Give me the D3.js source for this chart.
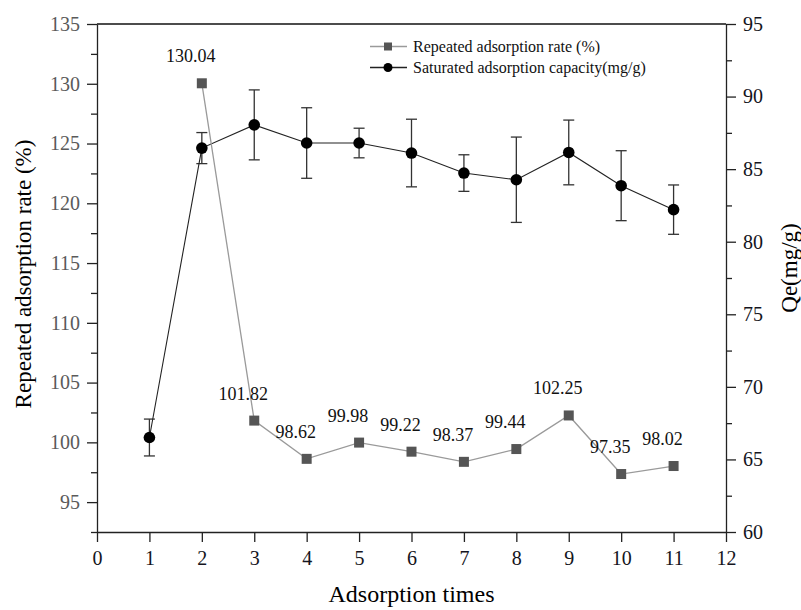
<!DOCTYPE html>
<html lang="en">
<head>
  <meta charset="UTF-8" />
  <title>Repeated adsorption</title>
  <script src="https://d3js.org/d3.v7.min.js"></script>
  <style>
    html, body { margin: 0; padding: 0; background: #fff; overflow: hidden; }
    svg { display: block; }
    svg text { font-family: "Liberation Serif", "Times New Roman", serif; }
    .axis path, .axis line { stroke: #222; stroke-width: 1.3px; }
    .axis text { font-size: 20px; }
    .left-axis text { fill: #5a5a5a; }
    .right-axis text, .bottom-axis text { fill: #141420; }
    .title { font-size: 23px; fill: #000; text-anchor: middle; }
    .val { font-size: 18px; fill: #111; text-anchor: middle; }
    .legend text { font-size: 16px; fill: #111; }
  </style>
</head>
<body>
  <svg width="801" height="610"></svg>
  <script>
    const times = [1, 2, 3, 4, 5, 6, 7, 8, 9, 10, 11];
    const rateTimes = [2, 3, 4, 5, 6, 7, 8, 9, 10, 11];
    const rate = [130.04, 101.82, 98.62, 99.98, 99.22, 98.37, 99.44, 102.25, 97.35, 98.02];
    const capacity = [66.51, 86.45, 88.05, 86.8, 86.8, 86.11, 84.73, 84.27, 86.15, 83.86, 82.21];
    const capacityErr = [1.27, 1.07, 2.41, 2.43, 1.02, 2.33, 1.26, 2.94, 2.23, 2.41, 1.7];
    const xTicks = [0, 1, 2, 3, 4, 5, 6, 7, 8, 9, 10, 11, 12];
    const leftTicks = [95, 100, 105, 110, 115, 120, 125, 130, 135];
    const leftMinor = [92.5, 97.5, 102.5, 107.5, 112.5, 117.5, 122.5, 127.5, 132.5];
    const rightTicks = [60, 65, 70, 75, 80, 85, 90, 95];
    const rightMinor = [62.5, 67.5, 72.5, 77.5, 82.5, 87.5, 92.5];
    const legendNames = ["Repeated adsorption rate (%)", "Saturated adsorption capacity(mg/g)"];

    const plotL = 97, plotR = 726, plotT = 24, plotB = 532;
    const svg = d3.select("svg");

    const x = d3.scaleLinear().domain([0, 12]).range([plotL, plotR]);
    const yL = d3.scaleLinear().domain([92.5, 135]).range([plotB, plotT]);
    const yR = d3.scaleLinear().domain([60, 95]).range([plotB, plotT]);

    // top frame line
    svg.append("line")
      .attr("x1", plotL).attr("x2", plotR).attr("y1", plotT).attr("y2", plotT)
      .attr("stroke", "#111").attr("stroke-width", 1.5);

    // axes
    const gl = svg.append("g").attr("class", "axis left-axis").attr("transform", `translate(${plotL},0)`);
    gl.call(d3.axisLeft(yL).tickValues(leftTicks).tickSize(10).tickSizeOuter(0).tickPadding(7));
    svg.append("g").attr("class", "axis").attr("transform", `translate(${plotL},0)`)
      .call(d3.axisLeft(yL).tickValues(leftMinor).tickSize(6).tickSizeOuter(0).tickFormat(""))
      .select(".domain").remove();

    const gr = svg.append("g").attr("class", "axis right-axis").attr("transform", `translate(${plotR},0)`);
    gr.call(d3.axisRight(yR).tickValues(rightTicks).tickSize(10).tickSizeOuter(0).tickPadding(7));
    svg.append("g").attr("class", "axis").attr("transform", `translate(${plotR},0)`)
      .call(d3.axisRight(yR).tickValues(rightMinor).tickSize(6).tickSizeOuter(0).tickFormat(""))
      .select(".domain").remove();

    const gb = svg.append("g").attr("class", "axis bottom-axis").attr("transform", `translate(0,${plotB})`);
    gb.call(d3.axisBottom(x).tickValues(xTicks).tickSize(10).tickSizeOuter(0));
    gb.selectAll("text").attr("y", 33).attr("dy", null);

    svg.selectAll(".axis").attr("font-family", null);

    // axis titles
    svg.append("text").attr("class", "title")
      .attr("transform", `translate(31,${(plotT + plotB) / 2 - 4}) rotate(-90)`)
      .text("Repeated adsorption rate (%)");
    svg.append("text").attr("class", "title")
      .attr("transform", `translate(797,${(plotT + plotB) / 2 - 10}) rotate(-90)`)
      .text("Qe(mg/g)");
    svg.append("text").attr("class", "title")
      .attr("x", (plotL + plotR) / 2).attr("y", 602)
      .style("font-size", "24px")
      .text("Adsorption times");

    // saturated adsorption capacity (right axis)
    const capData = times.map((t, i) => ({ t, v: capacity[i], e: capacityErr[i] }));
    const eb = svg.append("g").attr("stroke", "#333").attr("stroke-width", 1.3);
    eb.selectAll("line.bar").data(capData).enter().append("line")
      .attr("x1", d => x(d.t)).attr("x2", d => x(d.t))
      .attr("y1", d => yR(d.v + d.e)).attr("y2", d => yR(d.v - d.e));
    eb.selectAll("line.cap-top").data(capData).enter().append("line")
      .attr("x1", d => x(d.t) - 5.5).attr("x2", d => x(d.t) + 5.5)
      .attr("y1", d => yR(d.v + d.e)).attr("y2", d => yR(d.v + d.e));
    eb.selectAll("line.cap-bot").data(capData).enter().append("line")
      .attr("x1", d => x(d.t) - 5.5).attr("x2", d => x(d.t) + 5.5)
      .attr("y1", d => yR(d.v - d.e)).attr("y2", d => yR(d.v - d.e));

    svg.append("path").datum(capData)
      .attr("fill", "none").attr("stroke", "#222").attr("stroke-width", 1.1)
      .attr("d", d3.line().x(d => x(d.t)).y(d => yR(d.v)));
    svg.append("g").selectAll("circle").data(capData).enter().append("circle")
      .attr("cx", d => x(d.t)).attr("cy", d => yR(d.v)).attr("r", 5.8)
      .attr("fill", "#000");

    // repeated adsorption rate (left axis)
    const rateData = rateTimes.map((t, i) => ({ t, v: rate[i] }));
    svg.append("path").datum(rateData)
      .attr("fill", "none").attr("stroke", "#9a9a9a").attr("stroke-width", 1.3)
      .attr("d", d3.line().x(d => x(d.t)).y(d => yL(d.v)));
    svg.append("g").selectAll("rect").data(rateData).enter().append("rect")
      .attr("x", d => x(d.t) - 5).attr("y", d => yL(d.v) - 5)
      .attr("width", 10).attr("height", 10)
      .attr("fill", "#555");
    svg.append("g").selectAll("text").data(rateData).enter().append("text")
      .attr("class", "val")
      .attr("x", d => x(d.t) - 11).attr("y", d => yL(d.v) - 21)
      .text(d => d.v.toFixed(2));

    // legend
    const lg = svg.append("g").attr("class", "legend");
    const rows = [
      { name: legendNames[0], color: "#9a9a9a", mark: "square", y: 46.5 },
      { name: legendNames[1], color: "#222", mark: "circle", y: 67.5 }
    ];
    rows.forEach(r => {
      lg.append("line").attr("x1", 370).attr("x2", 407).attr("y1", r.y).attr("y2", r.y)
        .attr("stroke", r.color).attr("stroke-width", 1.3);
      if (r.mark === "square") {
        lg.append("rect").attr("x", 384).attr("y", r.y - 4).attr("width", 8).attr("height", 8).attr("fill", "#555");
      } else {
        lg.append("circle").attr("cx", 388).attr("cy", r.y).attr("r", 4.5).attr("fill", "#000");
      }
      lg.append("text").attr("x", 413).attr("y", r.y + 5).text(r.name);
    });
  </script>
</body>
</html>
